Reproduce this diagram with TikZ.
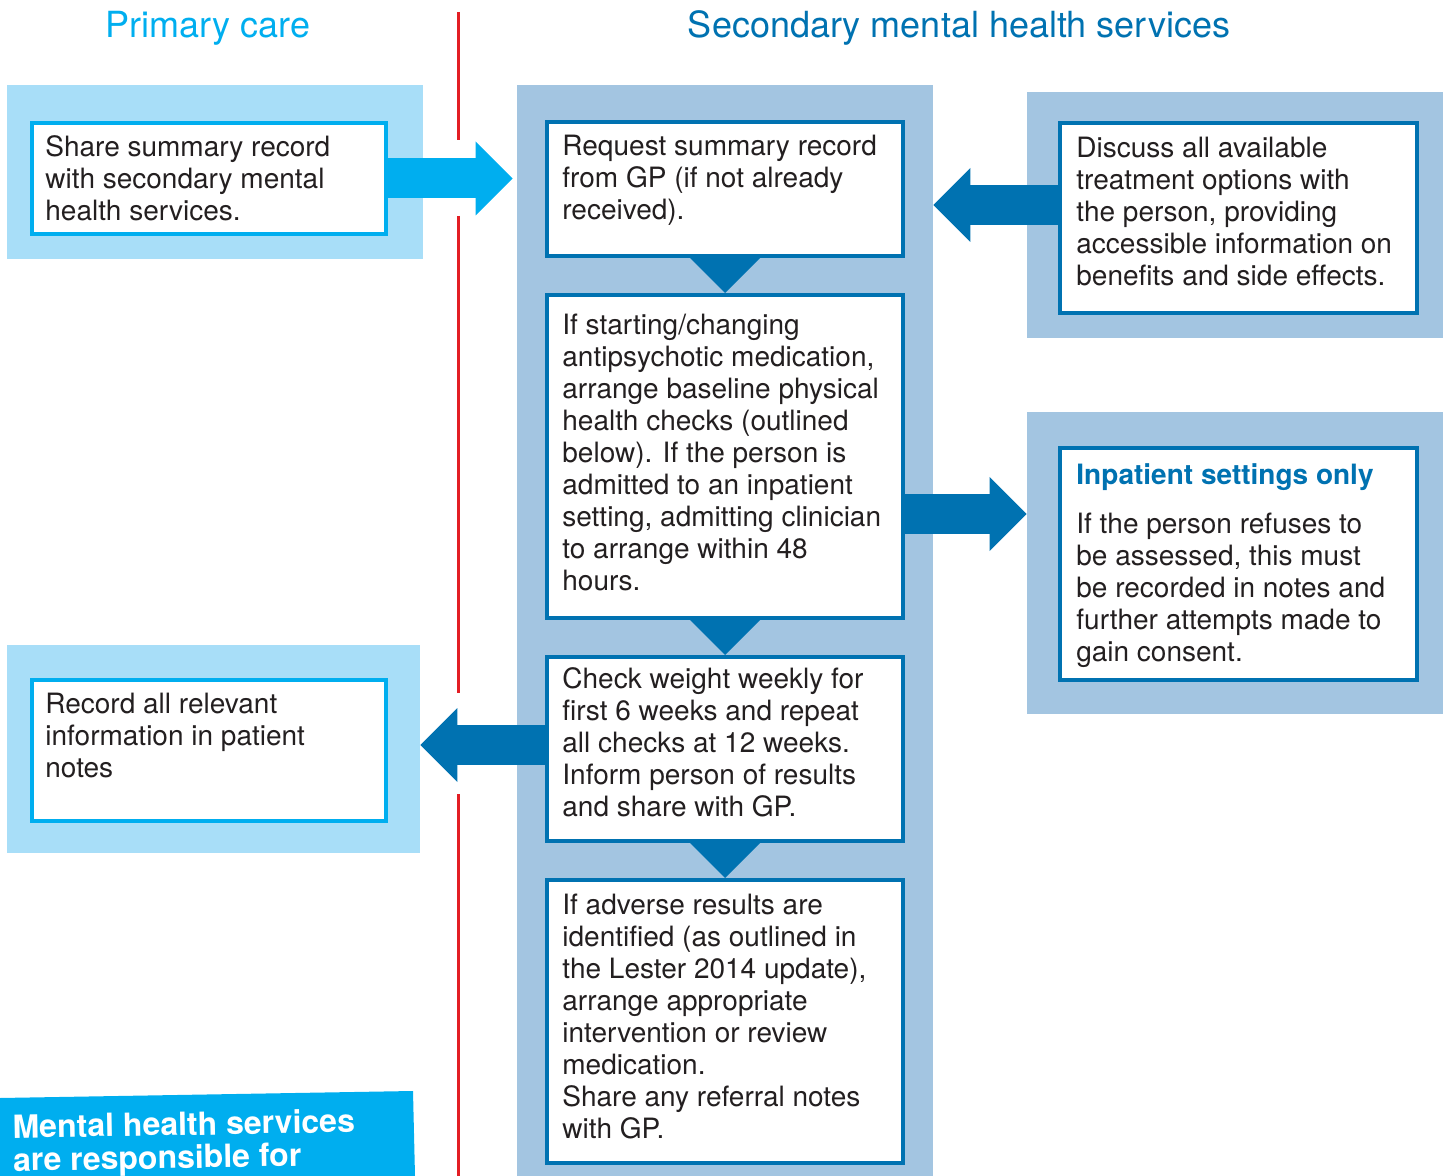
\documentclass[tikz,border=0pt]{standalone}
\usepackage{fontspec}
\setmainfont{TeX Gyre Heros}
\usetikzlibrary{arrows.meta}

\definecolor{palecyan}{RGB}{168,222,248}
\definecolor{cyanc}{RGB}{0,174,239}
\definecolor{bluebg}{RGB}{163,197,225}
\definecolor{darkb}{RGB}{0,114,177}
\definecolor{redl}{RGB}{227,30,36}
\definecolor{ink}{RGB}{35,31,32}

\begin{document}
\begin{tikzpicture}[x=0.5pt,y=-0.5pt]
      \tikzstyle{palebg} = [fill=palecyan, inner sep=0]
      \tikzstyle{bluebox} = [fill=bluebg, inner sep=0]
      \tikzstyle{cbox} = [draw=cyanc, fill=white, line width=2pt, inner sep=0]
      \tikzstyle{dbox} = [draw=darkb, fill=white, line width=2pt, inner sep=0]
      \tikzstyle{txt} = [anchor=north west, align=left, inner sep=0, text=ink, font=\fontsize{14}{16}\selectfont]
      \tikzstyle{fat} = [line width=20pt, -{Triangle[length=18.5pt,width=37pt,line width=0pt]}]

      \useasboundingbox (0,0) rectangle (1451,1176);

      % column headings
      \node[font=\fontsize{18}{20}\selectfont, text=cyanc, anchor=base] (prim) at (208,38) {Primary care};
      \node[font=\fontsize{18}{20}\selectfont, text=darkb, anchor=base] (sec) at (959,38) {Secondary mental health services};

      % backgrounds
      \node[palebg, minimum width=208pt, minimum height=87pt] (sharebg) at (215,172) {};
      \node[palebg, minimum width=206.5pt, minimum height=104pt] (recbg) at (213.5,749) {};
      \node[bluebox, minimum width=208pt, minimum height=545.5pt] (midbg) at (725,630.5) {};
      \node[bluebox, minimum width=208pt, minimum height=123pt] (discbg) at (1235,215) {};
      \node[bluebox, minimum width=208pt, minimum height=151pt] (inpbg) at (1235,563) {};

      \fill[cyanc] (0,1098) -- (413,1091) -- (415,1176) -- (0,1176) -- cycle;
      \node[anchor=north west, align=left, inner sep=0, text=white, font=\fontsize{16}{16.5}\selectfont\bfseries, rotate=1] (resp) at (12,1114) {Mental health services\\are responsible for};

      % divider
      \foreach \ya/\yb in {12/140, 216/693, 794/1176}
        \draw[redl, line width=1.5pt] (458,\ya) -- (458,\yb);

      % boxes
      \node[cbox, minimum width=177pt, minimum height=55.5pt] (share) at (209,178.5) {};
      \node[cbox, minimum width=177pt, minimum height=70.5pt] (rec) at (209,750.5) {};
      \node[dbox, minimum width=178pt, minimum height=67pt] (req) at (725,189) {};
      \node[dbox, minimum width=178pt, minimum height=161.5pt] (med) at (725,456.5) {};
      \node[dbox, minimum width=178pt, minimum height=92pt] (chk) at (725,749) {};
      \node[dbox, minimum width=178pt, minimum height=141.5pt] (adv) at (725,1021.5) {};
      \node[dbox, minimum width=178.5pt, minimum height=95pt] (disc) at (1238.5,218) {};
      \node[dbox, minimum width=178.5pt, minimum height=116pt] (inp) at (1238.5,564) {};

      % block arrows
      \draw[fat, cyanc, shorten >=2pt] (share.east) -- (share.east -| midbg.west);
      \path (disc.west) ++(0,-13) coordinate (d1);
      \draw[fat, darkb] (d1) -- (d1 -| midbg.east);
      \path (med.east) ++(0,57.5) coordinate (m1);
      \draw[fat, darkb] (m1) -- (m1 -| inpbg.west);
      \path (chk.west) ++(0,-4) coordinate (c1);
      \draw[fat, darkb] (c1) -- (c1 -| recbg.east);

      \foreach \a/\b in {req/med, med/chk, chk/adv}
        \fill[darkb] (\a.south) ++(-35,0) -- ++(70,0) -- (\b.north) -- cycle;

      % texts
      \node[txt] (sharetxt) at (45,135) {Share summary record\\with secondary mental\\health services.};
      \node[txt] (rectxt) at (45,693) {Record all relevant\\information in patient\\notes};
      \node[txt] (reqtxt) at (562,135) {Request summary record\\from GP (if not already\\received).};
      \node[txt] (medtxt) at (562,314) {If starting/changing\\antipsychotic medication,\\arrange baseline physical\\health checks (outlined\\below). If the person is\\admitted to an inpatient\\setting, admitting clinician\\to arrange within 48\\hours.};
      \node[txt] (chktxt) at (562,667) {Check weight weekly for\\first 6 weeks and repeat\\all checks at 12 weeks.\\Inform person of results\\and share with GP.};
      \node[txt] (advtxt) at (562,894) {If adverse results are\\identified (as outlined in\\the Lester 2014 update),\\arrange appropriate\\intervention or review\\medication.\\Share any referral notes\\with GP.};
      \node[txt] (disctxt) at (1076,137) {Discuss all available\\treatment options with\\the person, providing\\accessible information on\\benefits and side effects.};
      \node[txt] (inptxt) at (1076,463) {{\bfseries\color{darkb}Inpatient settings only}\\[8.5pt]If the person refuses to\\be assessed, this must\\be recorded in notes and\\further attempts made to\\gain consent.};
\end{tikzpicture}
\end{document}
